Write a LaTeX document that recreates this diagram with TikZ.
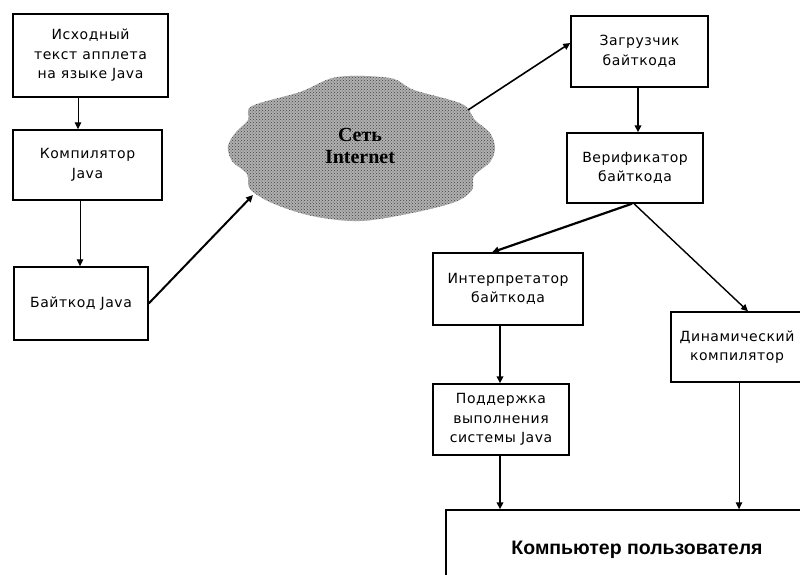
\documentclass[tikz,border=0pt]{standalone}
\usepackage{fontspec}
\setmainfont{Liberation Sans}
\newfontfamily\boxfont[LetterSpace=4]{DejaVu Sans}
\newfontfamily\netfont{Liberation Serif}
\usetikzlibrary{arrows.meta,patterns}

\begin{document}
\begin{tikzpicture}[x=1pt,y=-1pt,
  stepbox/.style={draw, line width=1.4pt, inner sep=0pt, align=center,
    font=\boxfont\fontsize{14}{19.5}\selectfont},
  tip/.style={-{Triangle[length=7pt,width=6.5pt]}},
  thinline/.style={tip, line width=1pt},
  midline/.style={tip, line width=1.6pt},
  thickline/.style={tip, line width=2.6pt},
  netfill/.style={fill=gray!62, postaction={pattern=crosshatch dots, pattern color=gray!50!black}}
]
\useasboundingbox (0,0) rectangle (800,574);

% developer side
\node[stepbox, minimum width=155pt, minimum height=83pt] (src) at (90.5,55.5)
  {Исходный\\текст апплета\\на языке Java};
\node[stepbox, minimum width=149pt, minimum height=70pt] (javac) at (87.5,165)
  {Компилятор\\Java};
\node[stepbox, minimum width=134pt, minimum height=73pt] (bc) at (81,303.5)
  {Байткод Java};

% the network
\path[netfill] plot[smooth cycle, tension=0.55] coordinates {
  (337,77) (390,78) (414,90) (462,104) (475,120) (490,133) (495,148)
  (490,162) (474,176) (472,190) (455,202) (412,213) (360,221) (312,216)
  (272,203) (250,189) (247,174) (232,161) (228,146) (236,132) (248,120)
  (252,106) (300,92)};
\node[font=\netfont\bfseries\fontsize{20}{22}\selectfont, align=center, inner sep=0pt]
  (net) at (360,146) {Сеть\\Internet};
\coordinate (netin) at (253,195);
\coordinate (netout) at (468,110);

% user side
\node[stepbox, minimum width=137pt, minimum height=71pt] (loader) at (639.5,51.5)
  {Загрузчик\\байткода};
\node[stepbox, minimum width=136pt, minimum height=70pt] (verif) at (635,168)
  {Верификатор\\байткода};
\node[stepbox, minimum width=150pt, minimum height=72pt] (interp) at (508,289)
  {Интерпретатор\\байткода};
\node[stepbox, minimum width=136pt, minimum height=71pt] (runtime) at (501,419.5)
  {Поддержка\\выполнения\\системы Java};
\node[stepbox, minimum width=132pt, minimum height=70pt] (jit) at (737,347)
  {Динамический\\компилятор};
\node[draw, line width=1.4pt, minimum width=384pt, minimum height=90pt, inner sep=0pt] (host) at (638,555) {};
\node[font=\bfseries\fontsize{19.5}{22}\selectfont, inner sep=0pt] (hostlabel) at (637,550)
  {Компьютер пользователя};

% connectors
\draw[thinline] ([xshift=-12.5pt]src.south) -- ([xshift=-9.5pt]javac.north);
\draw[thinline] ([xshift=-7.5pt]javac.south) -- ([xshift=-1pt]bc.north);
\draw[thickline, line width=2pt] (bc.east) -- (netin);
\draw[midline] (netout) -- ([yshift=8.5pt]loader.west);
\draw[thickline] ([xshift=-1.5pt]loader.south) -- ([xshift=3pt]verif.north);
\draw[thickline, line width=2.2pt] ([xshift=-3pt]verif.south) -- ([xshift=-16pt]interp.north);
\draw[midline, line width=1.4pt] ([xshift=-1pt]verif.south) -- ([xshift=11pt]jit.north);
\draw[thickline] ([xshift=-8pt]interp.south) -- ([xshift=-1pt]runtime.north);
\draw[thickline] ([xshift=-1pt]runtime.south) -- ([xshift=-1pt]runtime.south |- host.north);
\draw[thinline] ([xshift=2pt]jit.south) -- ([xshift=2pt]jit.south |- host.north);
\end{tikzpicture}
\end{document}
